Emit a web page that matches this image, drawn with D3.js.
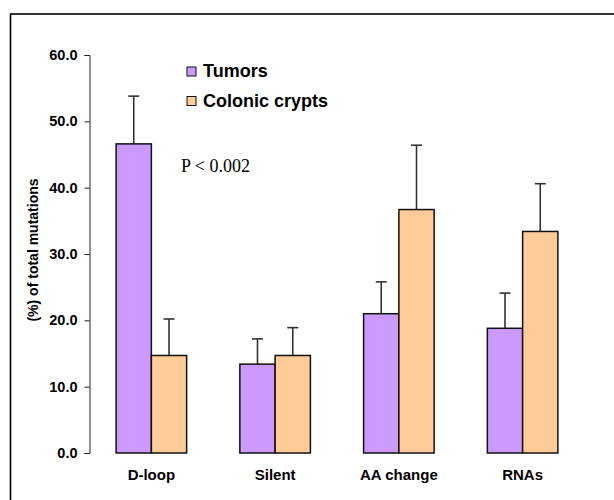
<!DOCTYPE html>
<html>
<head>
<meta charset="utf-8">
<script src="https://cdn.jsdelivr.net/npm/d3@7"></script>
<style>
  html, body { margin: 0; padding: 0; background: #fff; }
  svg { display: block; }
</style>
</head>
<body>
<svg id="chart" width="614" height="500"></svg>
<script>
const categories = ["D-loop", "Silent", "AA change", "RNAs"];
const seriesNames = ["Tumors", "Colonic crypts"];
const tumorValues = [46.6, 13.4, 21.0, 18.8];
const tumorErrors = [7.2, 3.8, 4.8, 5.3];
const cryptValues = [14.7, 14.7, 36.7, 33.4];
const cryptErrors = [5.5, 4.2, 9.7, 7.2];
const yTicks = [0, 10, 20, 30, 40, 50, 60];
const colors = ["#CC99FF", "#FFCC99"];
const annotation = "P < 0.002";

const svg = d3.select("#chart");

// outer frame
svg.append("rect")
  .attr("x", 10.5).attr("y", 14)
  .attr("width", 640).attr("height", 520)
  .attr("fill", "none").attr("stroke", "#000").attr("stroke-width", 1.6);

const plot = { left: 89.5, right: 584.5, top: 55, bottom: 453 };

const x = d3.scaleBand()
  .domain(categories)
  .range([plot.left, plot.right])
  .paddingInner(0.43)
  .paddingOuter(0.215);

const xs = d3.scaleBand()
  .domain(seriesNames)
  .range([0, x.bandwidth()])
  .padding(0);

const y = d3.scaleLinear().domain([0, 60]).range([plot.bottom, plot.top]);

// y axis
const yAxis = d3.axisLeft(y)
  .tickValues(yTicks)
  .tickFormat(d3.format(".1f"))
  .tickSize(5)
  .tickPadding(7);

const gy = svg.append("g")
  .attr("transform", `translate(${plot.left},0)`)
  .call(yAxis);
gy.select(".domain").attr("stroke", "#222").attr("stroke-width", 1);
gy.selectAll(".tick line").attr("stroke", "#222").attr("stroke-width", 1);
gy.selectAll(".tick text")
  .attr("font-family", "Liberation Sans, Arial, sans-serif")
  .attr("font-weight", "bold")
  .attr("font-size", 14.5)
  .attr("fill", "#000");

// y axis title
svg.append("text")
  .attr("transform", "translate(38,250) rotate(-90)")
  .attr("text-anchor", "middle")
  .attr("font-family", "Liberation Sans, Arial, sans-serif")
  .attr("font-weight", "bold")
  .attr("font-size", 14)
  .attr("fill", "#000")
  .text("(%) of total mutations");

// data table
const series = [
  { name: seriesNames[0], values: tumorValues, errors: tumorErrors, color: colors[0] },
  { name: seriesNames[1], values: cryptValues, errors: cryptErrors, color: colors[1] }
];
const rows = [];
series.forEach(s => {
  categories.forEach((c, i) => {
    rows.push({ cat: c, name: s.name, v: s.values[i], e: s.errors[i], color: s.color });
  });
});

// error bars
const eb = svg.append("g");
rows.forEach(d => {
  const cx = x(d.cat) + xs(d.name) + xs.bandwidth() / 2;
  eb.append("line")
    .attr("x1", cx).attr("x2", cx)
    .attr("y1", y(d.v)).attr("y2", y(d.v + d.e))
    .attr("stroke", "#333").attr("stroke-width", 1.6);
  eb.append("line")
    .attr("x1", cx - 5.5).attr("x2", cx + 5.5)
    .attr("y1", y(d.v + d.e)).attr("y2", y(d.v + d.e))
    .attr("stroke", "#333").attr("stroke-width", 1.6);
});

// bars
svg.append("g").selectAll("rect")
  .data(rows)
  .join("rect")
  .attr("x", d => x(d.cat) + xs(d.name))
  .attr("y", d => y(d.v))
  .attr("width", xs.bandwidth())
  .attr("height", d => y(0) - y(d.v))
  .attr("fill", d => d.color)
  .attr("stroke", "#111")
  .attr("stroke-width", 1.5);

// category labels
svg.append("g").selectAll("text")
  .data(categories)
  .join("text")
  .attr("x", d => x(d) + x.bandwidth() / 2)
  .attr("y", 480)
  .attr("text-anchor", "middle")
  .attr("font-family", "Liberation Sans, Arial, sans-serif")
  .attr("font-weight", "bold")
  .attr("font-size", 15)
  .attr("fill", "#000")
  .text(d => d);

// legend
const legend = svg.append("g");
seriesNames.forEach((n, i) => {
  const ly = 67 + i * 29.5;
  legend.append("rect")
    .attr("x", 187).attr("y", ly)
    .attr("width", 9).attr("height", 9)
    .attr("fill", colors[i]).attr("stroke", "#111").attr("stroke-width", 1);
  legend.append("text")
    .attr("x", 203).attr("y", ly + 10)
    .attr("font-family", "Liberation Sans, Arial, sans-serif")
    .attr("font-weight", "bold")
    .attr("font-size", 18)
    .attr("fill", "#000")
    .text(n);
});

// annotation
svg.append("text")
  .attr("x", 181).attr("y", 171.5)
  .attr("font-family", "Liberation Serif, Times New Roman, serif")
  .attr("font-size", 18)
  .attr("fill", "#000")
  .text(annotation);
</script>
</body>
</html>
